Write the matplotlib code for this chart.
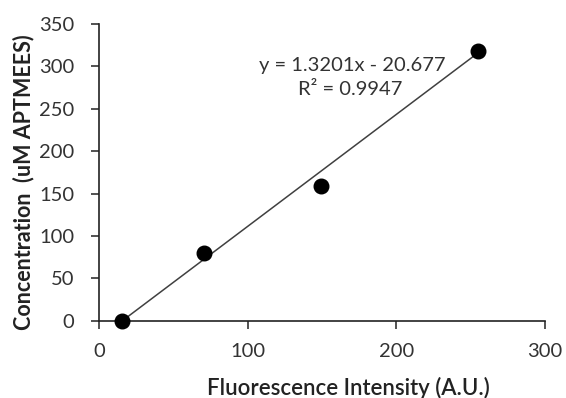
import numpy as np
import matplotlib.pyplot as plt

intensity = [15.3, 70.6, 149.2, 254.7]
concentration = [0, 79.5, 159, 318]
slope = 1.3201
intercept = -20.677
r2 = 0.9947

plt.rcParams['font.family'] = ['Lato', 'DejaVu Sans']

fig = plt.figure(figsize=(5.66, 3.98), dpi=100)
ax = fig.add_axes([0.175, 0.194, 0.788, 0.746])

ax.scatter(intensity, concentration, s=110, color='black', zorder=3, clip_on=False)

xs = np.array([min(intensity), max(intensity)])
ax.plot(xs, slope * xs + intercept, color='#404040', lw=1.1, zorder=2)

ax.text(170, 301, f'y = {slope:.4f}x - {abs(intercept):.3f}', ha='center', va='center',
        fontsize=14.5, color='#333333')
ax.text(169, 273, f'R² = {r2:.4f}', ha='center', va='center', fontsize=14.5, color='#333333')

ax.set_xlim(0, 300)
ax.set_ylim(0, 350)
ax.set_xticks([0, 100, 200, 300])
ax.set_yticks(range(0, 351, 50))
ax.tick_params(labelsize=14.5, colors='#333333', length=6, width=1.2)
ax.tick_params(axis='y', pad=12)
ax.tick_params(axis='x', pad=10)
for s in ['top', 'right']:
    ax.spines[s].set_visible(False)
for s in ['left', 'bottom']:
    ax.spines[s].set_linewidth(1.2)
    ax.spines[s].set_color('#222222')

ax.set_xlabel('Fluorescence Intensity (A.U.)', fontsize=16, fontweight='semibold',
              color='#222222', va='center')
ax.xaxis.set_label_coords(0.558, -0.227)
ax.set_ylabel('Concentration  (uM APTMEES)', fontsize=15.5, fontweight='bold',
              color='#222222', va='center')
ax.yaxis.set_label_coords(-0.170, 0.467)

fig.savefig('out.png', dpi=100)
